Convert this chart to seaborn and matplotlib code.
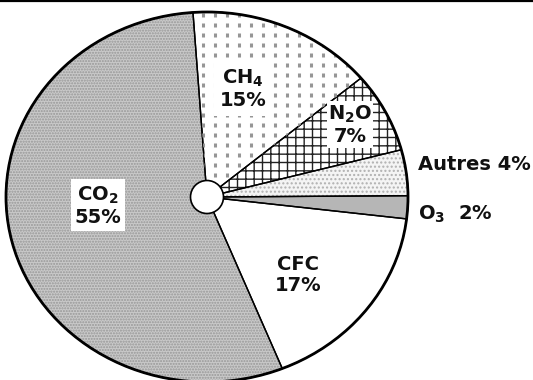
import numpy as np
import matplotlib
matplotlib.use('Agg')
import matplotlib.pyplot as plt
import seaborn as sns
from matplotlib.patches import Ellipse
from matplotlib.collections import LineCollection
from matplotlib.lines import Line2D

# ---- data ----
gases = ['CH$_4$', 'N$_2$O', 'Autres', 'O$_3$', 'CFC', 'CO$_2$']
shares = [15, 7, 4, 2, 17, 55]

# ---- style ----
sns.set_theme(style='white')
plt.rcParams['font.family'] = ['DejaVu Sans']
plt.rcParams['font.weight'] = 'bold'
plt.rcParams['mathtext.fontset'] = 'custom'
plt.rcParams['mathtext.rm'] = 'DejaVu Sans:bold'
plt.rcParams['mathtext.it'] = 'DejaVu Sans:bold'
plt.rcParams['mathtext.bf'] = 'DejaVu Sans:bold'
plt.rcParams['mathtext.default'] = 'rm'
plt.rcParams['hatch.linewidth'] = 1.0

W, H = 533, 380
fig = plt.figure(figsize=(W / 100, H / 100), dpi=100)
fig.patch.set_facecolor('white')
cx, cy, rx, ry = 207, 197, 201, 185
ax = fig.add_axes([(cx - rx) / W, (H - cy - ry) / H, 2 * rx / W, 2 * ry / H])

faces = ['white', 'white', '#f4f4f4', '#b6b6b6', 'white', '#c9c9c9']
hatches = [None, '++', '....', None, None, '......']
hcolors = ['white', '#222222', '#b0b0b0', '#b6b6b6', 'white', '#979797']

wedges, _ = ax.pie(shares, startangle=94, counterclock=False,
                   wedgeprops=dict(linewidth=0))
for w, fc, h, hc in zip(wedges, faces, hatches, hcolors):
    w.set_facecolor(fc)
    w.set_edgecolor(hc)
    w.set_linewidth(0)
    if h:
        w.set_hatch(h)

# dashed texture for CH4
xs = np.arange(-0.2, 0.85, 12 / rx)
ys = np.arange(0.0, 1.05, 10 / ry)
segs = [[(x, y), (x, y + 4.5 / ry)] for x in xs for y in ys]
lc = LineCollection(segs, colors='#969696', linewidths=2.2)
lc.set_clip_path(wedges[0])
ax.add_collection(lc)

# outlines
outl, _ = ax.pie(shares, startangle=94, counterclock=False,
                 wedgeprops=dict(facecolor='none', edgecolor='black', linewidth=1.0))
for w in outl:
    w.set_clip_on(False)
ax.add_patch(Ellipse((0, 0), 2, 2, facecolor='none', edgecolor='black',
                     linewidth=2.0, clip_on=False, zorder=5))
ax.add_patch(Ellipse((0, 0), 2 * 16.5 / rx, 2 * 16.5 / ry, facecolor='white',
                     edgecolor='black', linewidth=1.2, clip_on=False, zorder=6))

ax.set_aspect('auto')
ax.set_xlim(-1, 1)
ax.set_ylim(-1, 1)
ax.axis('off')

# labels
def px(x, y):
    return (x - cx) / rx, (cy - y) / ry

fs = 14
inside = {
    'CO$_2$': ((98, 206), 3.0),
    'CH$_4$': ((243, 89), 4.0),
    'N$_2$O': ((350, 125), 1.0),
    'CFC': ((298, 275), 2.0),
}
outside = {
    'Autres': (418, 165),
    'O$_3$': (418, 214),
}
for g, s in zip(gases, shares):
    if g in inside:
        (x0, y0), pad = inside[g]
        x, y = px(x0, y0)
        ax.text(x, y, f'{g}\n{s}%', ha='center', va='center', fontsize=fs,
                fontweight='bold', linespacing=1.15, color='#111111',
                bbox=dict(facecolor='white', edgecolor='none', pad=pad), zorder=7)
    else:
        x, y = px(*outside[g])
        sep = ' ' if g == 'Autres' else '  '
        ax.text(x, y, f'{g}{sep}{s}%', ha='left', va='center', fontsize=fs,
                fontweight='bold', color='#111111', zorder=7)

fig.add_artist(Line2D([0, 1], [1 - 1 / H, 1 - 1 / H], transform=fig.transFigure,
                      color='black', linewidth=1.6))

fig.savefig('out.png', dpi=100)
